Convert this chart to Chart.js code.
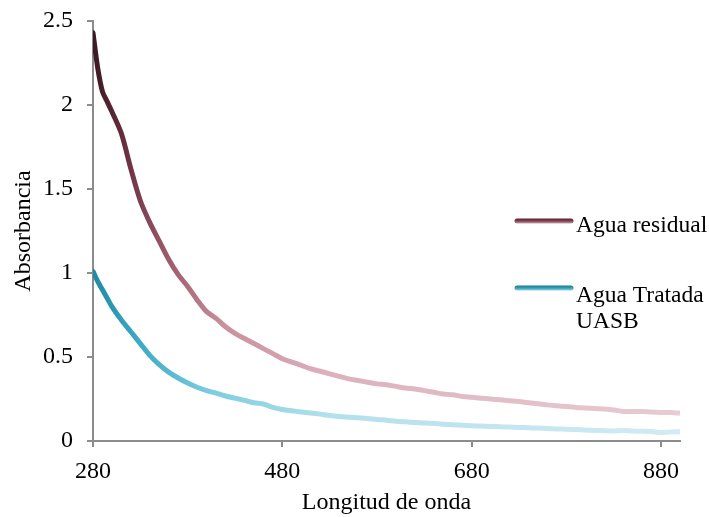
<!DOCTYPE html>
<html>
<head>
<meta charset="utf-8">
<script src="https://cdn.jsdelivr.net/npm/chart.js@4.4.1/dist/chart.umd.min.js"></script>
<style>
html,body{margin:0;padding:0;background:#fff;}
#wrap{position:relative;width:709px;height:517px;}
</style>
</head>
<body>
<div id="wrap"><canvas id="c" width="709" height="517"></canvas></div>
<script>
// ---- data ----
const wavelengths = [280,285,290,295,300,310,320,330,340,350,360,370,380,390,400,410,420,430,440,450,460,470,480,490,500,510,520,530,540,550,560,570,580,590,600,610,620,630,640,650,660,670,680,690,700,710,720,730,740,750,760,770,780,790,800,810,820,830,840,850,860,870,880,890,900];
const aguaResidual = [2.43,2.22,2.08,2.02,1.96,1.83,1.62,1.43,1.30,1.19,1.08,0.99,0.92,0.84,0.77,0.73,0.68,0.64,0.61,0.58,0.55,0.52,0.49,0.47,0.45,0.43,0.415,0.40,0.385,0.37,0.36,0.35,0.34,0.335,0.325,0.315,0.31,0.30,0.29,0.28,0.275,0.265,0.26,0.255,0.25,0.245,0.24,0.235,0.228,0.222,0.215,0.21,0.205,0.20,0.197,0.193,0.19,0.185,0.176,0.175,0.176,0.172,0.17,0.169,0.166];
const aguaTratada = [1.01,0.95,0.90,0.85,0.80,0.72,0.65,0.58,0.51,0.455,0.41,0.375,0.345,0.32,0.30,0.285,0.268,0.255,0.242,0.228,0.22,0.20,0.188,0.18,0.173,0.167,0.16,0.152,0.146,0.142,0.138,0.134,0.128,0.124,0.118,0.114,0.11,0.107,0.104,0.10,0.097,0.094,0.091,0.089,0.087,0.085,0.083,0.081,0.079,0.077,0.074,0.072,0.07,0.068,0.066,0.063,0.061,0.06,0.062,0.059,0.058,0.056,0.05,0.054,0.055];
const xTicks = [280,480,680,880];
const yTicks = [0,0.5,1,1.5,2,2.5];
const seriesNames = ['Agua residual','Agua Tratada\nUASB'];

const FONT = "'Liberation Serif','Times New Roman',serif";
const residualStops = [[0,'#3b1822'],[0.05,'#652d3d'],[0.12,'#9a5667'],[0.22,'#c98f9d'],[0.4,'#dcb1bb'],[1,'#e8ccd2']];
const treatedStops = [[0,'#1f8aa3'],[0.08,'#3eaac4'],[0.2,'#7dcde0'],[0.4,'#b2e0ec'],[1,'#d3ebf3']];

function gradFor(stops){
  let cache=null, key='';
  return function(ctx){
    const chart = ctx.chart; const a = chart.chartArea;
    if(!a) return stops[0][1];
    const k = a.left+','+a.right+','+a.top;
    if(cache && key===k) return cache;
    const g = chart.ctx.createLinearGradient(a.left,0,a.right,0);
    stops.forEach(s=>g.addColorStop(s[0],s[1]));
    cache=g; key=k; return g;
  };
}

const legendPlugin = {
  id:'customLegend',
  afterDraw(chart){
    const c = chart.ctx;
    const items = [
      {y:221, base:232, lines:seriesNames[0].split('\n'), top:'#4a2130', mid:'#7e4152', bot:'#e0b5bf'},
      {y:288, base:302, lines:seriesNames[1].split('\n'), top:'#166f86', mid:'#2f9fba', bot:'#a7dce9'}
    ];
    c.save();
    items.forEach(it=>{
      const g = c.createLinearGradient(0,it.y-3,0,it.y+3);
      g.addColorStop(0,it.top); g.addColorStop(0.5,it.mid); g.addColorStop(1,it.bot);
      c.strokeStyle=g; c.lineWidth=5; c.lineCap='round';
      c.beginPath(); c.moveTo(517,it.y); c.lineTo(571,it.y); c.stroke();
      c.fillStyle='#000'; c.font='23.5px '+FONT; c.textBaseline='alphabetic'; c.textAlign='left';
      it.lines.forEach((t,i)=>c.fillText(t,576,it.base+i*26));
    });
    c.restore();
  }
};

new Chart(document.getElementById('c'),{
  type:'line',
  data:{
    labels:wavelengths,
    datasets:[
      {label:'Agua residual',data:wavelengths.map((w,i)=>({x:w,y:aguaResidual[i]})),borderColor:gradFor(residualStops),borderWidth:5,pointRadius:0,tension:0.3,fill:false,borderCapStyle:'round'},
      {label:'Agua Tratada UASB',data:wavelengths.map((w,i)=>({x:w,y:aguaTratada[i]})),borderColor:gradFor(treatedStops),borderWidth:5,pointRadius:0,tension:0.3,fill:false,borderCapStyle:'round'}
    ]
  },
  options:{
    responsive:false,animation:false,
    layout:{padding:{top:21,right:29,left:0,bottom:0}},
    plugins:{legend:{display:false},tooltip:{enabled:false}},
    scales:{
      x:{type:'linear',min:280,max:900,
        afterBuildTicks(s){s.ticks=xTicks.map(v=>({value:v}));},
        afterFit(s){s.height=76;s.paddingLeft=0;s.paddingRight=0;},
        grid:{drawOnChartArea:false,drawTicks:true,tickLength:6,color:'#8c8c8c',lineWidth:2},
        border:{color:'#8c8c8c',width:2},
        ticks:{color:'#000',font:{family:FONT,size:24},padding:10,maxRotation:0,autoSkip:false},
        title:{display:true,text:'Longitud de onda',color:'#000',font:{family:FONT,size:24},padding:{top:0,bottom:0}}
      },
      y:{type:'linear',min:0,max:2.5,
        afterBuildTicks(s){s.ticks=yTicks.map(v=>({value:v}));},
        afterFit(s){s.width=93;s.paddingTop=0;s.paddingBottom=0;},
        grid:{drawOnChartArea:false,drawTicks:true,tickLength:6,color:'#8c8c8c',lineWidth:2},
        border:{color:'#8c8c8c',width:2},
        ticks:{color:'#000',font:{family:FONT,size:24},padding:14,callback:v=>String(v)},
        title:{display:true,text:'Absorbancia',color:'#000',font:{family:FONT,size:24},padding:{top:9,bottom:0}}
      }
    }
  },
  plugins:[legendPlugin]
});
</script>
</body>
</html>
